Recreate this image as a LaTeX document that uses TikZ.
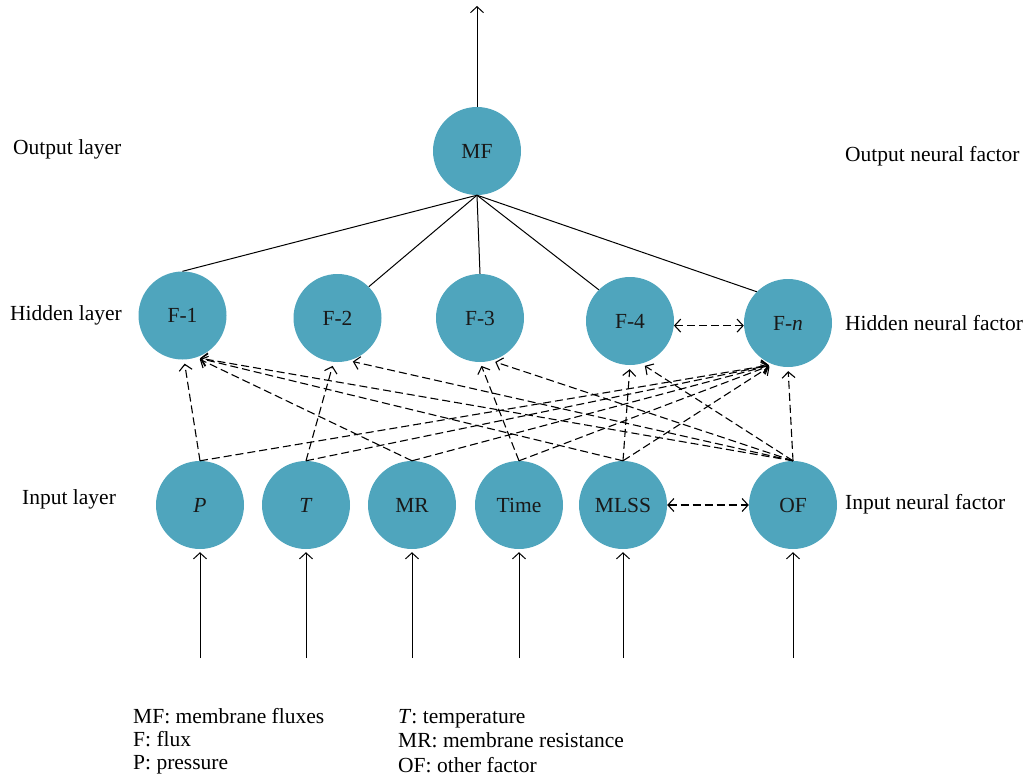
\documentclass[tikz,border=0pt]{standalone}
\usepackage{fontspec}
\setmainfont{Liberation Serif}
\usetikzlibrary{arrows.meta}
\definecolor{nodeblue}{RGB}{79,165,189}
\begin{document}
\begin{tikzpicture}[x=1pt,y=-1pt,
  neuron/.style={circle,fill=nodeblue,minimum size=88pt,inner sep=0pt,text=black!90,font=\fontsize{21.5}{25}\selectfont},
  lbl/.style={anchor=base west,inner sep=0pt,font=\fontsize{21.5}{25}\selectfont},
  tipx/.style={-{Straight Barb[length=6pt,width=13pt]}},
  solidarrow/.style={tipx,line width=1pt,shorten >=3pt},
  dasharrow/.style={tipx,line width=1.1pt,dash pattern=on 8pt off 4pt,shorten >=4pt},
  dashboth/.style={{Straight Barb[length=6pt,width=13pt]}-{Straight Barb[length=6pt,width=13pt]},line width=1.1pt,dash pattern=on 8pt off 4pt},
  link/.style={line width=1pt}]
\useasboundingbox (0,0) rectangle (1036,778);

% nodes
\node[neuron] (MF) at (477,151) {MF};
\node[neuron] (F1) at (182.5,315.5) {F-1};
\node[neuron] (F2) at (337.5,318) {F-2};
\node[neuron] (F3) at (480,318) {F-3};
\node[neuron] (F4) at (630,321) {F-4};
\node[neuron] (Fn) at (788,323) {F-\textit{n}};
\node[neuron] (P) at (200,505) {\textit{P}};
\node[neuron] (T) at (306,505) {\textit{T}};
\node[neuron] (MR) at (412,505) {MR};
\node[neuron] (Time) at (519,505) {Time};
\node[neuron] (MLSS) at (623,505) {MLSS};
\node[neuron] (OF) at (793,505) {OF};

% side labels
\node[lbl] (l1) at (13,154.3) {Output layer};
\node[lbl] (l2) at (10,320) {Hidden layer};
\node[lbl] (l3) at (22,504) {Input layer};
\node[lbl] (r1) at (845,162) {Output neural factor};
\node[lbl] (r2) at (845,330) {Hidden neural factor};
\node[lbl] (r3) at (845,509) {Input neural factor};

% legend
\node[lbl] (g1) at (133,723) {MF: membrane fluxes};
\node[lbl] (g2) at (133,746) {F: flux};
\node[lbl] (g3) at (133,769) {P: pressure};
\node[lbl] (g4) at (398,723) {\textit{T}: temperature};
\node[lbl] (g5) at (398,747) {MR: membrane resistance};
\node[lbl] (g6) at (398,772) {OF: other factor};

% output arrow
\coordinate (out) at (477,6);
\draw[solidarrow,shorten >=0pt] (MF) -- (out);

% input arrows
\coordinate (iP) at (200,658);
\coordinate (iT) at (306,658);
\coordinate (iMR) at (412,658);
\coordinate (iTime) at (519,658);
\coordinate (iMLSS) at (623,658);
\coordinate (iOF) at (793,658);
\draw[solidarrow] (iP) -- (P);
\draw[solidarrow] (iT) -- (T);
\draw[solidarrow] (iMR) -- (MR);
\draw[solidarrow] (iTime) -- (Time);
\draw[solidarrow] (iMLSS) -- (MLSS);
\draw[solidarrow] (iOF) -- (OF);

% output to hidden
\draw[link] (MF.south) -- (F1.north);
\draw[link] (MF.south) -- (F2.45);
\draw[link] (MF.south) -- (F3.north);
\draw[link] (MF.south) -- (F4.135);
\draw[link] (MF.south) -- (Fn.135);

% input to hidden (dashed)
\draw[dasharrow] (P.north) -- (F1.-88);
\draw[dasharrow] (P.north) -- (Fn.-110);
\draw[dasharrow] (T.north) -- (F2.-95);
\draw[dasharrow] (T.north) -- (Fn.-110);
\draw[dasharrow] (MR.north) -- (F1.-72);
\draw[dasharrow] (MR.north) -- (Fn.-110);
\draw[dasharrow] (Time.north) -- (F3.-90);
\draw[dasharrow] (Time.north) -- (Fn.-110);
\draw[dasharrow] (MLSS.north) -- (F4.-90);
\draw[dasharrow] (MLSS.north) -- (F1.-72);
\draw[dasharrow] (MLSS.north) -- (Fn.-110);
\draw[dasharrow] (OF.north) -- (F1.-72);
\draw[dasharrow] (OF.north) -- (F2.-75);
\draw[dasharrow] (OF.north) -- (F3.-75);
\draw[dasharrow] (OF.north) -- (F4.-75);
\draw[dasharrow] (OF.north) -- (Fn.-90);

% lateral links
\draw[dashboth] (F4.-6) -- (F4.-6 -| Fn.west);
\draw[dashboth] (MLSS.east) -- (OF.west);
\end{tikzpicture}
\end{document}
